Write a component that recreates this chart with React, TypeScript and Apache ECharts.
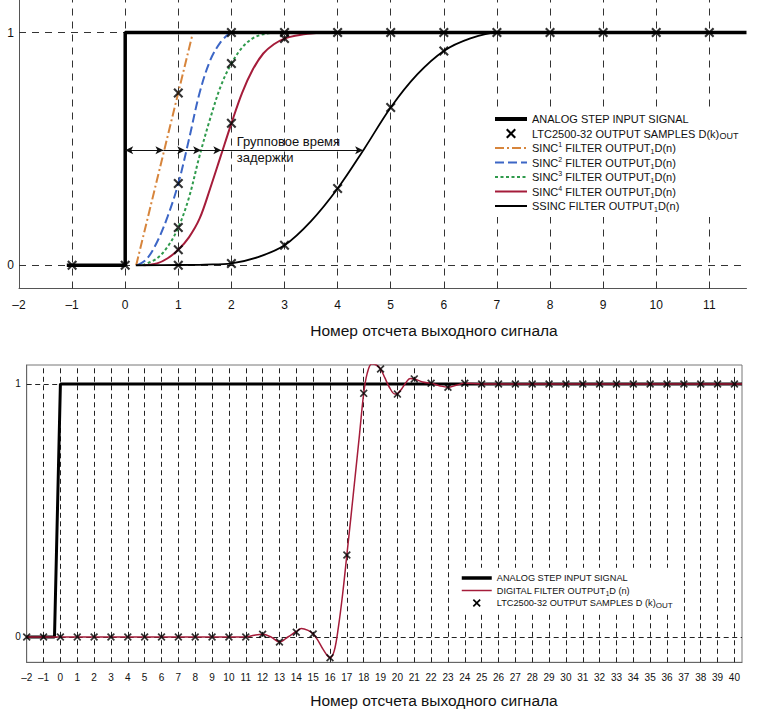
import React, { useEffect, useRef } from 'react';
import * as echarts from 'echarts';

const FONT = '"Liberation Sans", Arial, Helvetica, sans-serif';
const CROSS = 'path://M0,1.5L1.5,0L5,3.5L8.5,0L10,1.5L6.5,5L10,8.5L8.5,10L5,6.5L1.5,10L0,8.5L3.5,5Z';

// ---------- names ----------
const N_STEP = 'ANALOG STEP INPUT SIGNAL';
const N_SAMP = 'LTC2500-32 OUTPUT SAMPLES D(k)OUT';
const N_S1 = 'SINC1 FILTER OUTPUT1D(n)';
const N_S2 = 'SINC2 FILTER OUTPUT1D(n)';
const N_S3 = 'SINC3 FILTER OUTPUT1D(n)';
const N_S4 = 'SINC4 FILTER OUTPUT1D(n)';
const N_SS = 'SSINC FILTER OUTPUT1D(n)';
const N_DIG = 'DIGITAL FILTER OUTPUT1D (n)';

// ---------- top chart data ----------
const topXRange = [-2, 11.7];
const topYRange = [-0.1, 1.14];
const topGridXs = [-1, 0, 1, 2, 3, 4, 5, 6, 7, 8, 9, 10, 11];
const topGridYs = [0, 1];
const yLabelValues = [0, 1];
const topStep = [[-1.1, 0], [0, 0], [0, 1], [11.7, 1]];
const topSamples = [
  [-1, 0], [0, 0],
  [1, 0.74], [1, 0.351], [1, 0.162], [1, 0.067], [1, 0],
  [2, 1], [2, 0.867], [2, 0.61], [2, 0.007],
  [3, 1], [3, 0.974], [3, 0.086],
  [4, 1], [4, 0.33], [5, 1], [5, 0.678], [6, 1], [6, 0.921],
  [7, 1], [8, 1], [9, 1], [10, 1], [11, 1],
];
const sinc1 = [[0.207, 0], [1.275, 1]];
const sinc2 = [[0.23, 0], [0.4, 0.025], [0.6, 0.1], [0.8, 0.21], [1.0, 0.351], [1.2, 0.54], [1.4, 0.74], [1.6, 0.88], [1.8, 0.96], [1.98, 1]];
const sinc3 = [[0.33, 0], [0.6, 0.03], [0.8, 0.08], [1.0, 0.162], [1.2, 0.29], [1.4, 0.47], [1.6, 0.63], [1.8, 0.77], [2.0, 0.867], [2.2, 0.935], [2.4, 0.975], [2.6, 0.993], [2.8, 1]];
const sinc4 = [[0.36, 0], [0.6, 0.008], [0.8, 0.03], [1.0, 0.067], [1.2, 0.12], [1.4, 0.2], [1.6, 0.33], [1.8, 0.47], [2.0, 0.61], [2.2, 0.74], [2.4, 0.84], [2.6, 0.91], [2.8, 0.95], [3.0, 0.974], [3.2, 0.986], [3.5, 0.996], [4.0, 1]];
const ssinc = [[0.2, 0], [1, 0.001], [1.5, 0.003], [2, 0.008], [2.5, 0.035], [3, 0.086], [3.5, 0.19], [4, 0.33], [4.5, 0.5], [5, 0.678], [5.5, 0.82], [6, 0.921], [6.5, 0.975], [7, 1], [7.5, 1]];
const delayY = 0.494;
const delayXs = [0, 0.72, 1.13, 1.43, 1.81, 4.48];
const delayTextAt = [2.1, 0.497];

// ---------- bottom chart data ----------
const botXRange = [-2, 40.45];
const botYRange = [-0.1, 1.075];
const botGridXs = [-1, 0, 1, 2, 3, 4, 5, 6, 7, 8, 9, 10, 11, 12, 13, 14, 15, 16, 17, 18, 19, 20, 21, 22, 23, 24, 25, 26, 27, 28, 29, 30, 31, 32, 33, 34, 35, 36, 37, 38, 39, 40];
const botGridYs = [0, 1];
const botStep = [[-2, 0], [-0.35, 0], [0, 1], [40.45, 1]];
const botFilter = [
  [-2, 0], [11, 0], [11.5, 0.007], [12, 0.011], [12.5, 0.0], [13, -0.02], [13.5, 0.0], [14, 0.022], [14.3, 0.034], [14.7, 0.026],
  [15, 0.012], [15.3, -0.015], [15.6, -0.05], [16, -0.082], [16.25, -0.055], [16.5, 0.04], [16.75, 0.17], [17, 0.324],
  [17.25, 0.48], [17.5, 0.64], [17.75, 0.8], [18, 0.963], [18.2, 1.04], [18.47, 1.079], [18.75, 1.075], [19, 1.059],
  [19.25, 1.025], [19.5, 0.99], [19.85, 0.96], [20, 0.962], [20.25, 0.98], [20.5, 1.005], [20.75, 1.022], [21, 1.02],
  [21.5, 1.008], [22, 1.003], [22.5, 0.993], [23, 0.987], [23.5, 0.995], [24, 1.003], [25, 1], [40.45, 1],
];
const botSamples = [
  [-2, 0], [-1, 0], [0, 0], [1, 0], [2, 0], [3, 0], [4, 0], [5, 0], [6, 0], [7, 0], [8, 0], [9, 0], [10, 0], [11, 0],
  [12, 0.011], [13, -0.02], [14, 0.019], [15, 0.012], [16, -0.082], [17, 0.324], [18, 0.963], [19, 1.059], [20, 0.96],
  [21, 1.02], [22, 1.003], [23, 0.987], [24, 1.003],
  [25, 1], [26, 1], [27, 1], [28, 1], [29, 1], [30, 1], [31, 1], [32, 1], [33, 1], [34, 1], [35, 1], [36, 1], [37, 1], [38, 1], [39, 1], [40, 1],
];

const AXIS_TITLE = 'Номер отсчета выходного сигнала';

const fmtX = (v: number) => {
  const r = Math.round(v);
  if (Math.abs(v - r) > 1e-6) return '';
  return r < 0 ? '–' + Math.abs(r) : String(r);
};
const fmtY = (v: number) => (Math.abs(v) < 1e-9 ? '0' : Math.abs(v - 1) < 1e-9 ? '1' : '');

const curve = (name: string, data: number[][], color: string, width: number, type: any) => ({
  name, type: 'line', data, symbol: 'none', smooth: 0.35, silent: true, z: 2,
  lineStyle: { color, width, type }, itemStyle: { color },
});

function topOption(): any {
  const segs = delayXs.slice(1).map((x, i) => [
    { coord: [delayXs[i], delayY], symbol: i === 0 ? 'arrow' : 'none' },
    { coord: [x, delayY], symbol: 'arrow' },
  ]);
  const legendMap: Record<string, string> = {
    [N_STEP]: N_STEP,
    [N_SAMP]: 'LTC2500-32 OUTPUT SAMPLES D(k){sub2|OUT}',
    [N_S1]: 'SINC{sup|1} FILTER OUTPUT{sub|1}D(n)',
    [N_S2]: 'SINC{sup|2} FILTER OUTPUT{sub|1}D(n)',
    [N_S3]: 'SINC{sup|3} FILTER OUTPUT{sub|1}D(n)',
    [N_S4]: 'SINC{sup|4} FILTER OUTPUT{sub|1}D(n)',
    [N_SS]: 'SSINC FILTER OUTPUT{sub|1}D(n)',
  };
  return {
    animation: false,
    backgroundColor: '#fff',
    textStyle: { fontFamily: FONT },
    grid: { left: 19, top: 0, width: 727.5, height: 288.5, outerBoundsMode: 'none' },
    xAxis: {
      type: 'value', min: topXRange[0], max: topXRange[1], interval: 1,
      axisLine: { show: true, onZero: false, lineStyle: { color: '#555', width: 1 } },
      axisTick: { show: false }, splitLine: { show: false },
      axisLabel: { formatter: fmtX, fontSize: 12, color: '#111', margin: 10.5, fontFamily: FONT },
    },
    yAxis: {
      type: 'value', min: topYRange[0], max: topYRange[1],
      axisLine: { show: true, onZero: false, lineStyle: { color: '#555', width: 1 } },
      axisTick: { show: false }, splitLine: { show: false },
      axisLabel: { customValues: yLabelValues, formatter: fmtY, fontSize: 12, color: '#111', margin: 5, fontFamily: FONT },
    },
    legend: {
      orient: 'vertical', left: 489, top: 108, padding: [4, 8, 4, 4],
      backgroundColor: '#fff', selectedMode: false,
      itemWidth: 32, itemHeight: 10, itemGap: 0.5,
      itemStyle: { opacity: 0 },
      data: [
        { name: N_STEP, lineStyle: { width: 4 } },
        { name: N_SAMP, itemStyle: { opacity: 1 } },
        { name: N_S1, lineStyle: { width: 2 } },
        { name: N_S2, lineStyle: { width: 2 } },
        { name: N_S3, lineStyle: { width: 2 } },
        { name: N_S4, lineStyle: { width: 2 } },
        { name: N_SS, lineStyle: { width: 2 } },
      ],
      formatter: (n: string) => legendMap[n] || n,
      textStyle: {
        fontSize: 11, lineHeight: 14, color: '#111', fontFamily: FONT,
        rich: {
          sup: { fontSize: 7, lineHeight: 7, verticalAlign: 'top', fontFamily: FONT, color: '#111' },
          sub: { fontSize: 7, lineHeight: 7, verticalAlign: 'bottom', fontFamily: FONT, color: '#111' },
          sub2: { fontSize: 9, lineHeight: 9, verticalAlign: 'bottom', fontFamily: FONT, color: '#111' },
        },
      },
    },
    graphic: [{
      type: 'text', x: 434, y: 330, silent: true,
      style: { text: AXIS_TITLE, fontSize: 15.5, fontFamily: FONT, fill: '#111', align: 'center', verticalAlign: 'middle', textAlign: 'center', textVerticalAlign: 'middle' },
    }],
    series: [
      {
        ...curve(N_S1, sinc1, '#d7853c', 2, [9, 3, 2, 3]),
        markLine: {
          silent: true, z: 5, symbolSize: [6, 8], label: { show: false }, emphasis: { disabled: true },
          lineStyle: { color: '#111', width: 1, type: 'solid' },
          data: segs,
        },
      },
      curve(N_S2, sinc2, '#3c66c6', 2, [9, 4]),
      curve(N_S3, sinc3, '#2f9a4c', 2, [3, 2.5]),
      curve(N_S4, sinc4, '#a51c3a', 2, 'solid'),
      {
        ...curve(N_SS, ssinc, '#000', 1.8, 'solid'),
        markPoint: {
          silent: true, symbol: 'circle', symbolSize: 0,
          label: {
            show: true, position: 'right', distance: 0, formatter: 'Групповое время\nзадержки',
            fontSize: 13, lineHeight: 16, color: '#111', fontFamily: FONT, align: 'left',
          },
          data: [{ coord: delayTextAt }],
        },
      },
      {
        name: N_STEP, type: 'line', data: topStep, symbol: 'none', silent: true, z: 3,
        lineStyle: { color: '#000', width: 3.5 }, itemStyle: { color: '#000' },
        markLine: {
          silent: true, z: 1, symbol: ['none', 'none'], label: { show: false }, emphasis: { disabled: true },
          lineStyle: { color: '#333', width: 1, type: [7, 6] },
          data: [...topGridXs.map((v) => ({ xAxis: v })), ...topGridYs.map((v) => ({ yAxis: v }))],
        },
      },
      {
        name: N_SAMP, type: 'scatter', data: topSamples, symbol: CROSS, symbolSize: 10, symbolKeepAspect: true,
        silent: true, z: 4, itemStyle: { color: '#000' },
      },
    ],
  };
}

function bottomOption(): any {
  const legendMap: Record<string, string> = {
    [N_STEP]: N_STEP,
    [N_DIG]: 'DIGITAL FILTER OUTPUT{sub|1}D (n)',
    [N_SAMP]: 'LTC2500-32 OUTPUT SAMPLES D (k){sub2|OUT}',
  };
  return {
    animation: false,
    backgroundColor: '#fff',
    textStyle: { fontFamily: FONT },
    grid: { left: 26.7, top: 15, width: 715.3, height: 297.3, show: true, borderColor: '#777', borderWidth: 1, outerBoundsMode: 'none' },
    xAxis: {
      type: 'value', min: botXRange[0], max: botXRange[1], interval: 1,
      axisLine: { show: true, onZero: false, lineStyle: { color: '#666', width: 1 } },
      axisTick: { show: false }, splitLine: { show: false },
      axisLabel: { formatter: fmtX, fontSize: 10, color: '#111', margin: 10, fontFamily: FONT },
    },
    yAxis: {
      type: 'value', min: botYRange[0], max: botYRange[1],
      axisLine: { show: true, onZero: false, lineStyle: { color: '#666', width: 1 } },
      axisTick: { show: false }, splitLine: { show: false },
      axisLabel: { customValues: yLabelValues, formatter: fmtY, fontSize: 10, color: '#111', margin: 6, fontFamily: FONT },
    },
    legend: {
      orient: 'vertical', left: 455, top: 217.75, padding: [4, 6, 4, 5],
      backgroundColor: '#fff', selectedMode: false,
      itemWidth: 30, itemHeight: 8, itemGap: 0,
      itemStyle: { opacity: 0 },
      data: [
        { name: N_STEP, lineStyle: { width: 3.5 } },
        { name: N_DIG, lineStyle: { width: 1.5 } },
        { name: N_SAMP, itemStyle: { opacity: 1 } },
      ],
      formatter: (n: string) => legendMap[n] || n,
      textStyle: {
        fontSize: 9.2, lineHeight: 12.5, color: '#111', fontFamily: FONT,
        rich: {
          sub: { fontSize: 6.5, lineHeight: 6.5, verticalAlign: 'bottom', fontFamily: FONT, color: '#111' },
          sub2: { fontSize: 8, lineHeight: 8, verticalAlign: 'bottom', fontFamily: FONT, color: '#111' },
        },
      },
    },
    graphic: [{
      type: 'text', x: 434, y: 350, silent: true,
      style: { text: AXIS_TITLE, fontSize: 15.5, fontFamily: FONT, fill: '#111', align: 'center', verticalAlign: 'middle', textAlign: 'center', textVerticalAlign: 'middle' },
    }],
    series: [
      {
        name: N_DIG, type: 'line', data: botFilter, symbol: 'none', smooth: 0.35, silent: true, z: 3,
        lineStyle: { color: '#a51c3a', width: 1.5 }, itemStyle: { color: '#a51c3a' },
      },
      {
        name: N_STEP, type: 'line', data: botStep, symbol: 'none', silent: true, z: 2,
        lineStyle: { color: '#000', width: 3 }, itemStyle: { color: '#000' },
        markLine: {
          silent: true, z: 1, symbol: ['none', 'none'], label: { show: false }, emphasis: { disabled: true },
          lineStyle: { color: '#222', width: 1, type: [5, 3.5] },
          data: [...botGridXs.map((v) => ({ xAxis: v })), ...botGridYs.map((v) => ({ yAxis: v }))],
        },
      },
      {
        name: N_SAMP, type: 'scatter', data: botSamples, symbol: CROSS, symbolSize: 8, symbolKeepAspect: true,
        silent: true, z: 4, itemStyle: { color: '#000' },
      },
    ],
  };
}

export default function App() {
  const topRef = useRef<HTMLDivElement>(null);
  const botRef = useRef<HTMLDivElement>(null);
  useEffect(() => {
    const c1 = echarts.init(topRef.current as HTMLDivElement, undefined, { renderer: 'svg' });
    c1.setOption(topOption());
    const c2 = echarts.init(botRef.current as HTMLDivElement, undefined, { renderer: 'svg' });
    c2.setOption(bottomOption());
    return () => {
      c1.dispose();
      c2.dispose();
    };
  }, []);
  return (
    <div style={{ position: 'absolute', left: 0, top: 0, width: 758, height: 712, background: '#fff' }}>
      <div ref={topRef} style={{ position: 'absolute', left: 0, top: 0, width: 758, height: 350 }} />
      <div ref={botRef} style={{ position: 'absolute', left: 0, top: 350, width: 758, height: 362 }} />
    </div>
  );
}
